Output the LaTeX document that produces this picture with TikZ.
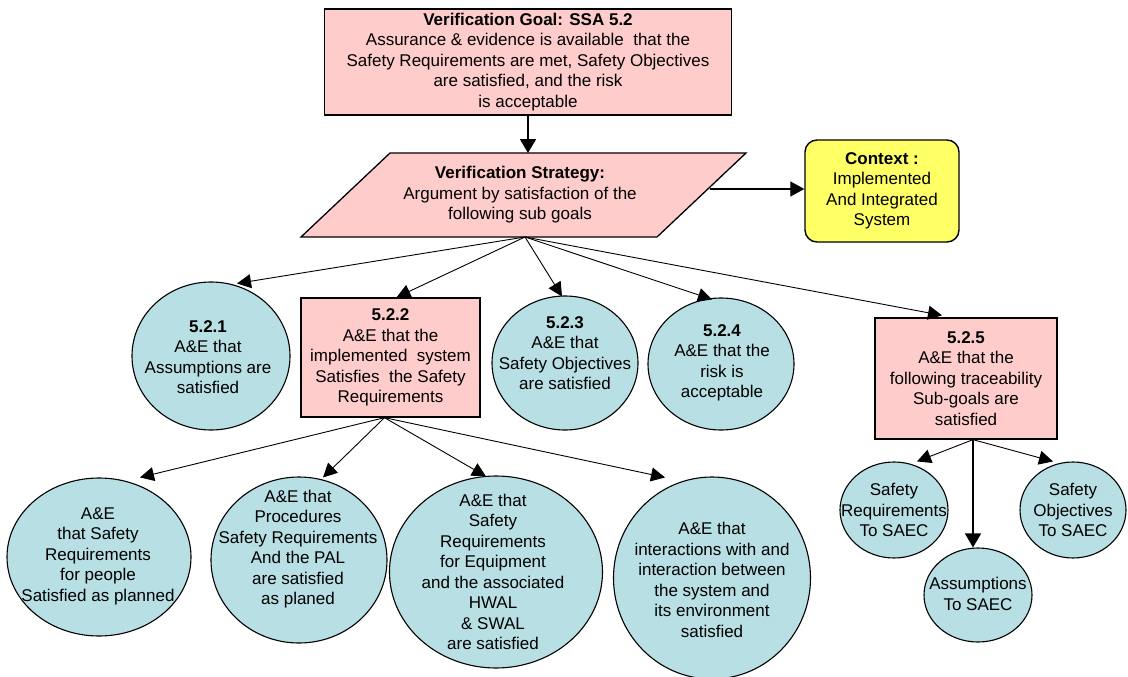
\documentclass[tikz,border=0pt]{standalone}
\usepackage{fontspec}
\setmainfont{Liberation Sans}
\usetikzlibrary{shapes.geometric,arrows.meta,calc}

\definecolor{goalpink}{RGB}{255,204,204}
\definecolor{bubblecyan}{RGB}{183,223,228}
\definecolor{ctxyellow}{RGB}{255,255,102}

\tikzset{
  lbl/.style={align=center, inner sep=0pt, font=\fontsize{17}{20.5}\selectfont},
  goalbox/.style={draw, fill=goalpink, line width=1.5pt, inner sep=0pt, align=center,
    font=\fontsize{17}{20.5}\selectfont},
  ctxbox/.style={draw, fill=ctxyellow, line width=1.4pt, rounded corners=12pt, inner sep=0pt,
    align=center, font=\fontsize{17}{20.5}\selectfont},
  bubble/.style={ellipse, draw, fill=bubblecyan, line width=1.1pt, inner sep=0pt},
  link/.style={line width=0.9pt, -{Triangle[length=14pt,width=14pt]}},
  mainlink/.style={line width=1.8pt, -{Triangle[length=14pt,width=16pt]}},
}

\begin{document}
\begin{tikzpicture}[x=1pt, y=-1pt]
\useasboundingbox (0,0) rectangle (1128,677);

% top goal
\node[goalbox, minimum width=407pt, minimum height=106pt] (goal) at (528,62)
  {\textbf{Verification Goal: SSA 5.2}\\Assurance \& evidence is available~ that the\\Safety Requirements are met, Safety Objectives\\are satisfied, and the risk\\is acceptable};

% strategy parallelogram
\coordinate (stl) at (390,153);
\coordinate (str) at (746,153);
\coordinate (sbr) at (657,237);
\coordinate (sbl) at (301,237);
\filldraw[fill=goalpink, line width=1.3pt] (stl) -- (str) -- (sbr) -- (sbl) -- cycle;
\node[lbl] (strat) at (520,195)
  {\textbf{Verification Strategy:}\\Argument by satisfaction of the\\following sub goals};
\coordinate (stop) at (goal.south |- stl);
\coordinate (sright) at (710,189);
\coordinate (sbot) at (525,237);

% context
\node[ctxbox, minimum width=154pt, minimum height=102pt] (ctx) at (882,191)
  {\textbf{Context :}\\Implemented\\And Integrated\\System};

% second level
\node[bubble, minimum width=158pt, minimum height=148pt] (c521) at (211,356) {};
\node[lbl] (t521) at (208,357) {\textbf{5.2.1}\\A\&E that\\Assumptions are\\satisfied};

\node[goalbox, line width=1.3pt, minimum width=179pt, minimum height=119pt] (b522) at (390.5,357.5)
  {\textbf{5.2.2}\\A\&E that the\\implemented~ system\\Satisfies~ the Safety\\Requirements};

\node[bubble, minimum width=146pt, minimum height=134pt] (c523) at (565,363) {};
\node[lbl] (t523) at (565,353) {\textbf{5.2.3}\\A\&E that\\Safety Objectives\\are satisfied};

\node[bubble, minimum width=146pt, minimum height=132pt] (c524) at (721,364) {};
\node[lbl] (t524) at (722,363) {\textbf{5.2.4}\\A\&E that the\\risk is\\acceptable};

\node[goalbox, line width=1.3pt, minimum width=182pt, minimum height=121pt] (b525) at (966,378.5)
  {\textbf{5.2.5}\\A\&E that the\\following traceability\\Sub-goals are\\satisfied};

% third level under 5.2.2
\node[bubble, minimum width=184pt, minimum height=158pt] (ca) at (99,557) {};
\node[lbl] (ta) at (98,556) {A\&E\\that Safety\\Requirements\\for people\\Satisfied as planned};

\node[bubble, minimum width=176pt, minimum height=166pt] (cb) at (299,560) {};
\node[lbl] (tb) at (298,549) {A\&E that\\Procedures\\Safety Requirements\\And the PAL\\are satisfied\\as planed};

\node[bubble, minimum width=213pt, minimum height=192pt] (cc) at (496,572) {};
\node[lbl] (tc) at (493,572) {A\&E that\\Safety\\Requirements\\for Equipment\\and the associated\\HWAL\\\& SWAL\\are satisfied};

\node[bubble, minimum width=197pt, minimum height=202pt] (cd) at (712,578) {};
\node[lbl] (td) at (712,580) {A\&E that\\interactions with and\\interaction between\\the system and\\its environment\\satisfied};

% third level under 5.2.5
\node[bubble, minimum width=108pt, minimum height=96pt] (csr) at (894,510) {};
\node[lbl] (tsr) at (894,510) {Safety\\Requirements\\To SAEC};

\node[bubble, minimum width=108pt, minimum height=94pt] (cas) at (978,595) {};
\node[lbl] (tas) at (978,594) {Assumptions\\To SAEC};

\node[bubble, minimum width=106pt, minimum height=96pt] (cso) at (1073,510) {};
\node[lbl] (tso) at (1073,510) {Safety\\Objectives\\To SAEC};

% connectors
\draw[mainlink] (goal.south) -- (stop);
\draw[link, line width=1.3pt, -{Triangle[length=14pt,width=15pt]}] (sright) -- (sright -| ctx.west);

\draw[link] (sbot) -- ($(c521.north)+(26,2)$);
\draw[link] (sbot) -- ($(b522.north)+(6,0)$);
\draw[link] (sbot) -- ($(c523.north)+(-3,1)$);
\draw[link] (sbot) -- ($(c524.north)+(-9,2)$);
\draw[link] (sbot) -- ($(b525.north)+(-24,-2)$);

\coordinate (b522out) at ($(b522.south)+(-6,0)$);
\draw[link] (b522out) -- ($(ca.north)+(41,0)$);
\draw[link] (b522out) -- ($(cb.north)+(24,1)$);
\draw[link] (b522out) -- ($(cc.north)+(-10,1)$);
\draw[link] (b522out) -- ($(cd.north)+(-47,1)$);

\coordinate (b525out) at ($(b525.south)+(7,0)$);
\draw[link] (b525out) -- ($(csr.north)+(23,0)$);
\draw[mainlink, line width=1.5pt] (b525out) -- ($(cas.north)+(-5,0)$);
\draw[link] (b525out) -- ($(cso.north)+(-20,0)$);
\end{tikzpicture}
\end{document}
